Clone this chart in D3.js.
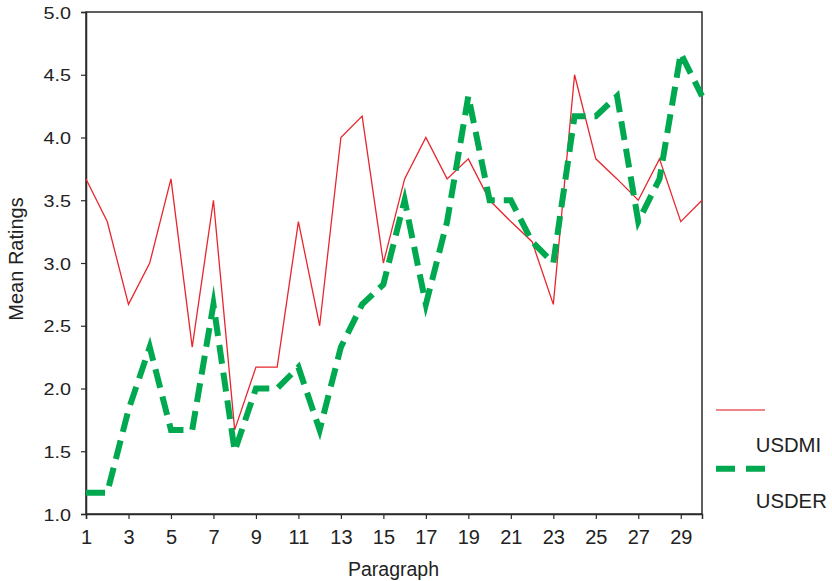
<!DOCTYPE html>
<html>
<head>
<meta charset="utf-8">
<script src="https://cdn.jsdelivr.net/npm/d3@7"></script>
<style>
  body { margin: 0; background: #fff; }
  text { font-family: "Liberation Sans", Arial, sans-serif; fill: #222; }
</style>
</head>
<body>
<svg id="chart" width="832" height="581"></svg>
<script>
const paragraphs = d3.range(1, 31);
const usdmi = [3.67, 3.33, 2.67, 3.0, 3.67, 2.33, 3.5, 1.67, 2.17, 2.17,
               3.33, 2.5, 4.0, 4.17, 3.0, 3.67, 4.0, 3.67, 3.83, 3.5,
               3.33, 3.17, 2.67, 4.5, 3.83, 3.67, 3.5, 3.83, 3.33, 3.5];
const usder = [1.17, 1.17, 1.83, 2.33, 1.67, 1.67, 2.67, 1.5, 2.0, 2.0,
               2.17, 1.67, 2.33, 2.67, 2.83, 3.5, 2.67, 3.33, 4.33, 3.5,
               3.5, 3.17, 3.0, 4.17, 4.17, 4.33, 3.33, 3.67, 4.67, 4.33];
const xTicks = [1, 3, 5, 7, 9, 11, 13, 15, 17, 19, 21, 23, 25, 27, 29];
const yTicks = [1.0, 1.5, 2.0, 2.5, 3.0, 3.5, 4.0, 4.5, 5.0];
const seriesNames = ["USDMI", "USDER"];

const svg = d3.select("#chart");
const mLeft = 86, mRight = 702, mTop = 12, mBottom = 514;
const x = d3.scaleLinear().domain([1, 30]).range([mLeft, mRight]);
const y = d3.scaleLinear().domain([1, 5]).range([mBottom, mTop]);

const axisColor = "#2a2a2a";

svg.append("rect").attr("x", mLeft).attr("y", mTop)
  .attr("width", mRight - mLeft).attr("height", mBottom - mTop)
  .attr("fill", "none").attr("stroke", axisColor).attr("stroke-width", 1.5);

const xAxis = svg.append("g").attr("transform", `translate(0,${mBottom})`)
  .call(d3.axisBottom(x).tickValues(xTicks).tickSize(5).tickPadding(4).tickFormat(d3.format("d")));
const yAxis = svg.append("g").attr("transform", `translate(${mLeft},0)`)
  .call(d3.axisLeft(y).tickValues(yTicks).tickSize(5).tickPadding(4).tickFormat(d3.format(".1f")));
[xAxis, yAxis].forEach(g => {
  g.select(".domain").attr("stroke", axisColor).attr("stroke-width", 1.5);
  g.selectAll(".tick line").attr("stroke", axisColor).attr("stroke-width", 1.2);
  g.selectAll(".tick text").attr("fill", "#222")
    .attr("font-family", "Liberation Sans, Arial, sans-serif");
});
xAxis.selectAll(".tick text").attr("font-size", 20).attr("y", 30.3).attr("dy", 0);
yAxis.selectAll(".tick text").attr("font-size", 17.2).attr("x", 0).attr("dy", "0.36em")
  .attr("transform", "translate(-15,0) scale(1.15,1)");

svg.append("text").attr("x", 393.5).attr("y", 575.5)
  .attr("text-anchor", "middle").attr("font-size", 19.5).text("Paragraph");
svg.append("text")
  .attr("transform", `translate(22.7,259) rotate(-90)`)
  .attr("text-anchor", "middle").attr("font-size", 20).text("Mean Ratings");

const line = d3.line().x((d, i) => x(paragraphs[i])).y(d => y(d));

const plot = svg.append("g");
plot.append("path").datum(usdmi).attr("d", line)
  .attr("fill", "none").attr("stroke", "#e8262d").attr("stroke-width", 1.3);
plot.append("path").datum(usder).attr("d", line)
  .attr("fill", "none").attr("stroke", "#00a94f").attr("stroke-width", 6)
  .attr("stroke-dasharray", "19,9").attr("stroke-linejoin", "miter")
  .attr("stroke-miterlimit", 10);

const lg = svg.append("g");
lg.append("line").attr("x1", 716).attr("x2", 765).attr("y1", 410).attr("y2", 410)
  .attr("stroke", "#ee5a60").attr("stroke-width", 1.6);
lg.append("text").attr("x", 755.8).attr("y", 451.7).attr("font-size", 20.3).text(seriesNames[0]);
lg.append("line").attr("x1", 716).attr("x2", 765).attr("y1", 468.7).attr("y2", 468.7)
  .attr("stroke", "#00a94f").attr("stroke-width", 6).attr("stroke-dasharray", "19,11");
lg.append("text").attr("x", 755.8).attr("y", 508.3).attr("font-size", 20.3).text(seriesNames[1]);
</script>
</body>
</html>
